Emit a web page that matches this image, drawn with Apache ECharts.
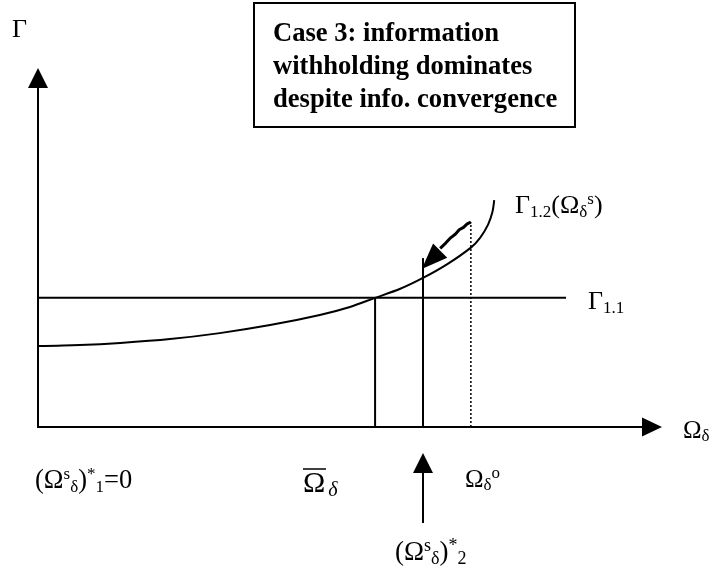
<!DOCTYPE html>
<html><head><meta charset="utf-8">
<script src="https://cdn.jsdelivr.net/npm/echarts@6/dist/echarts.min.js"></script>
<style>html,body{margin:0;padding:0;background:#fff}#c{width:715px;height:567px}</style>
</head><body><div id="c"></div>
<script>
// Γ1.2(Ω) curve (schematic values)
const curveX = [0, 0.68, 1.34, 2.15, 2.96, 3.78, 4.59, 5.08, 5.49, 5.90, 6.27, 6.66, 7.05, 7.20, 7.33, 7.40, 7.43];
const curveY = [2.32, 2.35, 2.41, 2.52, 2.69, 2.92, 3.21, 3.44, 3.70, 3.96, 4.27, 4.66, 5.14, 5.42, 5.80, 6.15, 6.50];
// Γ1.1 flat level
const gamma11Level = 3.70;
const gamma11End = 8.60;
// vertical markers
const omegaBar = 5.49;
const omegaStar2 = 6.27;
const omegaStar2Top = 4.84;
const omegaO = 7.05;
const omegaOTop = 5.87;
// hand-drawn arrow toward the curve
const arrowX = [7.05, 6.99, 6.93, 6.86, 6.80, 6.72, 6.64, 6.55];
const arrowY = [5.87, 5.82, 5.72, 5.65, 5.53, 5.42, 5.27, 5.12];
const arrowHead = [6.40, 4.79];

const FF = "'Liberation Serif','Times New Roman',serif";
function tok(size, lh, va, extra) {
  return Object.assign({fontFamily: FF, fontSize: size, lineHeight: lh, verticalAlign: va || 'middle', fill: '#000'}, extra || {});
}

const chart = echarts.init(document.getElementById('c'), null, {renderer: 'canvas'});
const axisCommon = {
  type: 'value', min: 0, max: 10,
  axisTick: {show: false}, axisLabel: {show: false}, splitLine: {show: false}
};
chart.setOption({
  animation: false,
  backgroundColor: '#fff',
  grid: {left: 38, right: 63, top: 78, bottom: 140},
  xAxis: Object.assign({}, axisCommon, {
    axisLine: {show: true, symbol: ['none', 'triangle'], symbolSize: [19, 20], lineStyle: {color: '#000', width: 2}}
  }),
  yAxis: Object.assign({}, axisCommon, {
    axisLine: {show: true, onZero: false, symbol: ['none', 'triangle'], symbolSize: [20, 20], lineStyle: {color: '#000', width: 2}}
  }),
  series: [
    {type: 'line', smooth: 0.3, symbol: 'none', data: curveX.map((x, i) => [x, curveY[i]]),
     lineStyle: {color: '#000', width: 2}},
    {type: 'line', symbol: 'none', data: [[0, gamma11Level], [gamma11End, gamma11Level]],
     lineStyle: {color: '#000', width: 2}},
    {type: 'line', symbol: 'none', data: [[omegaBar, 0], [omegaBar, gamma11Level]],
     lineStyle: {color: '#000', width: 2}},
    {type: 'line', symbol: 'none', data: [[omegaStar2, 0], [omegaStar2, omegaStar2Top]],
     lineStyle: {color: '#000', width: 2}},
    {type: 'line', symbol: 'none', data: [[omegaO, 0], [omegaO, omegaOTop]],
     lineStyle: {color: '#000', width: 1.5, type: [2, 2]}},
    {type: 'line', symbol: 'none', data: arrowX.map((x, i) => [x, arrowY[i]]),
     lineStyle: {color: '#000', width: 3}},
    {type: 'scatter', symbol: 'triangle', symbolSize: [20, 26], symbolRotate: 135,
     data: [arrowHead], itemStyle: {color: '#000', opacity: 1}}
  ]
});

const px = chart.convertToPixel({xAxisIndex: 0}, omegaStar2);
const els = [
  {type: 'rect', shape: {x: 254, y: 3, width: 321, height: 124},
   style: {fill: '#fff', stroke: '#000', lineWidth: 2}, z: 10},
  {type: 'text', x: 273, y: 17.5, z: 11,
   style: {text: 'Case 3: information\nwithholding dominates\ndespite info. convergence',
     fontFamily: FF, fontSize: 26.6, fontWeight: 'bold', lineHeight: 33, fill: '#000', align: 'left', verticalAlign: 'top'}},
  {type: 'text', x: 12, y: 30, z: 11,
   style: {text: 'Γ', fontFamily: FF, fontSize: 26, fill: '#000', align: 'left', verticalAlign: 'middle'}},
  {type: 'text', x: 588, y: 302, z: 11,
   style: {text: '{m|Γ}{b|1.1}', align: 'left', verticalAlign: 'middle',
     rich: {m: tok(26, 30), b: tok(17, 17, 'bottom')}}},
  {type: 'text', x: 515, y: 206, z: 11,
   style: {text: '{m|Γ}{b|1.2}{m|(Ω}{d|δ}{p|s}{m|)}', align: 'left', verticalAlign: 'middle',
     rich: {m: tok(26, 30), b: tok(17, 17, 'bottom'), d: tok(17, 4, 'bottom'), p: tok(17, 18, 'top')}}},
  {type: 'text', x: 683, y: 431, z: 11,
   style: {text: '{m|Ω}{d|δ}', align: 'left', verticalAlign: 'middle',
     rich: {m: tok(25, 29), d: tok(17, 7, 'bottom')}}},
  {type: 'text', x: 35, y: 481, z: 11,
   style: {text: '{m|(Ω}{p|s}{d|δ}{m|)}{p|*}{b|1}{m|=0}', align: 'left', verticalAlign: 'middle',
     rich: {m: tok(26.5, 30), b: tok(17, 17, 'bottom'), d: tok(17, 4, 'bottom'), p: tok(17, 18, 'top')}}},
  {type: 'text', x: 303, y: 484, z: 11,
   style: {text: '{m|Ω}{d|δ}', align: 'left', verticalAlign: 'middle',
     rich: {m: tok(30, 34), d: tok(20, 3, 'bottom', {fontStyle: 'italic', padding: [0, 0, 0, 3]})}}},
  {type: 'line', shape: {x1: 303, y1: 469, x2: 326, y2: 469}, style: {stroke: '#000', lineWidth: 1.5}, z: 11},
  {type: 'text', x: 465, y: 480, z: 11,
   style: {text: '{m|Ω}{d|δ}{p|o}', align: 'left', verticalAlign: 'middle',
     rich: {m: tok(25, 29), d: tok(17, 7, 'bottom'), p: tok(17, 10, 'top')}}},
  {type: 'text', x: 395, y: 552.5, z: 11,
   style: {text: '{m|(Ω}{p|s}{d|δ}{m|)}{p|*}{b|2}', align: 'left', verticalAlign: 'middle',
     rich: {m: tok(27, 31), b: tok(18, 12, 'bottom'), d: tok(18, 4, 'bottom'), p: tok(18, 17, 'top')}}},
  {type: 'polygon', shape: {points: [[px - 10, 473], [px + 10, 473], [px, 453]]}, style: {fill: '#000'}, z: 11},
  {type: 'line', shape: {x1: px, y1: 472, x2: px, y2: 523}, style: {stroke: '#000', lineWidth: 2}, z: 11}
];
chart.setOption({graphic: {elements: els}});
</script>
</body></html>
